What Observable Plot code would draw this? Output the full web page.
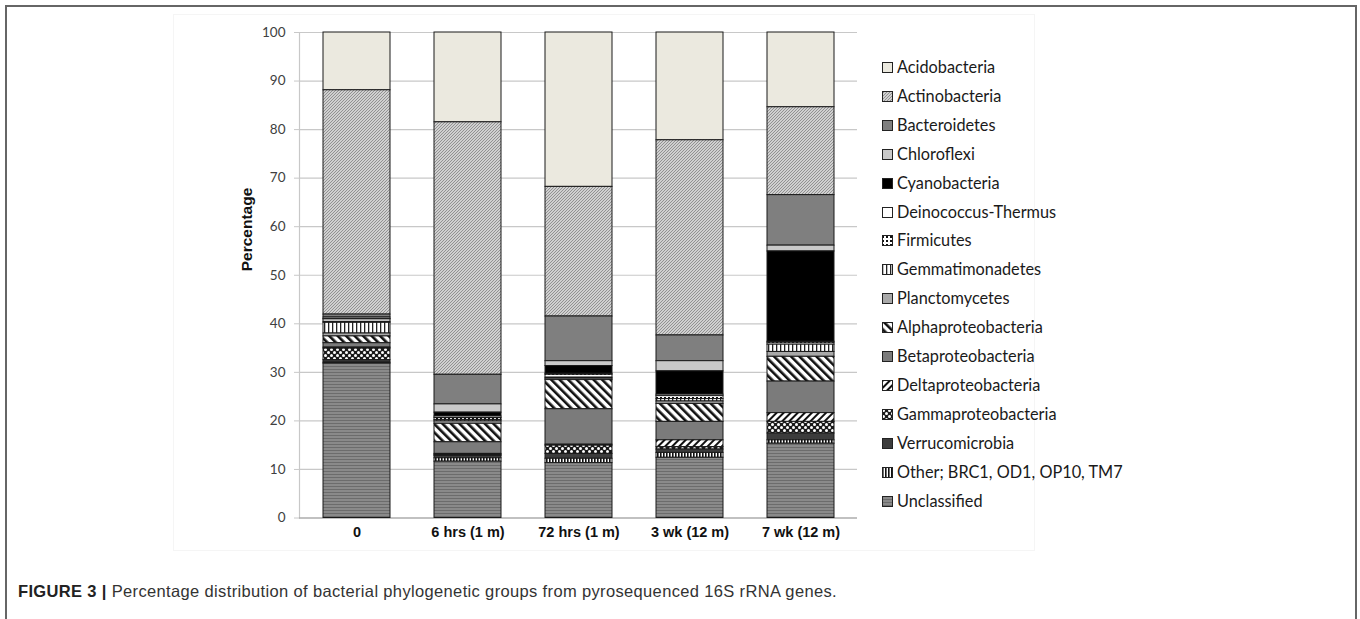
<!DOCTYPE html>
<html>
<head>
<meta charset="utf-8">
<script src="https://cdn.jsdelivr.net/npm/d3@7"></script>
<script src="https://cdn.jsdelivr.net/npm/@observablehq/plot@0.6"></script>
<style>
  html, body { margin: 0; padding: 0; background: #fff; }
  #root { position: relative; width: 1360px; height: 619px; overflow: hidden; background: #fff; }
  #frame { position: absolute; left: 5px; top: 5px; width: 1348px; height: 700px; border: 2px solid #666; border-bottom: none; }
  #area { position: absolute; left: 173px; top: 14px; width: 860px; height: 535px; border: 1px solid #f5f5f5; }
  #chart { position: absolute; left: 0; top: 0; }
  .leg { position: absolute; left: 882px; font-family: Lato, "Open Sans", sans-serif; font-size: 16.3px; color: #1a1a1a; white-space: nowrap; line-height: 1; }
  .leg svg { position: absolute; left: 0; top: 3px; }
  .leg span { position: absolute; left: 15px; top: 0; }
  #caption { position: absolute; left: 18px; top: 582px; font-family: "Liberation Sans", Arial, sans-serif; font-size: 16.5px; letter-spacing: 0.35px; color: #333; white-space: nowrap; }
  #caption b { color: #222; }
</style>
</head>
<body>
<svg width="0" height="0" style="position:absolute">
  <defs>
    <pattern id="p-acido" width="4" height="4" patternUnits="userSpaceOnUse"><rect width="4" height="4" fill="#ebe9df"/></pattern>
    <pattern id="p-actino" width="3" height="3" patternUnits="userSpaceOnUse"><rect width="3" height="3" fill="#d0d0d0"/><path d="M-1,1 L1,-1 M0,3 L3,0 M2,4 L4,2" stroke="#8a8a8a" stroke-width="0.9"/></pattern>
    <pattern id="p-bact" width="4" height="4" patternUnits="userSpaceOnUse"><rect width="4" height="4" fill="#7f7f7f"/></pattern>
    <pattern id="p-chloro" width="4" height="4" patternUnits="userSpaceOnUse"><rect width="4" height="4" fill="#c9c9c9"/></pattern>
    <pattern id="p-cyano" width="4" height="4" patternUnits="userSpaceOnUse"><rect width="4" height="4" fill="#000"/></pattern>
    <pattern id="p-deino" width="4" height="4" patternUnits="userSpaceOnUse"><rect width="4" height="4" fill="#fff"/></pattern>
    <pattern id="p-firm" width="4" height="4" patternUnits="userSpaceOnUse"><rect width="4" height="4" fill="#fff"/><rect x="0" y="1" width="2" height="2" fill="#111"/></pattern>
    <pattern id="p-gemma" width="4" height="4" patternUnits="userSpaceOnUse"><rect width="4" height="4" fill="#fff"/><rect x="0" y="0" width="1.3" height="4" fill="#222"/></pattern>
    <pattern id="p-plancto" width="4" height="4" patternUnits="userSpaceOnUse"><rect width="4" height="4" fill="#a9a9a9"/></pattern>
    <pattern id="p-alpha" width="6" height="6" patternUnits="userSpaceOnUse" patternTransform="rotate(-45)"><rect width="6" height="6" fill="#fff"/><rect x="0" y="0" width="2.6" height="6" fill="#111"/></pattern>
    <pattern id="p-beta" width="4" height="4" patternUnits="userSpaceOnUse"><rect width="4" height="4" fill="#7b7b7b"/></pattern>
    <pattern id="p-delta" width="5" height="5" patternUnits="userSpaceOnUse" patternTransform="rotate(45)"><rect width="5" height="5" fill="#fff"/><rect x="0" y="0" width="2" height="5" fill="#111"/></pattern>
    <pattern id="p-gamma" width="6" height="6" patternUnits="userSpaceOnUse"><rect width="6" height="6" fill="#1a1a1a"/><circle cx="1.5" cy="1.5" r="1.5" fill="#fff"/><circle cx="4.5" cy="4.5" r="1.5" fill="#fff"/></pattern>
    <pattern id="p-verru" width="4" height="4" patternUnits="userSpaceOnUse"><rect width="4" height="4" fill="#3c3c3c"/></pattern>
    <pattern id="p-other" width="3" height="3" patternUnits="userSpaceOnUse"><rect width="3" height="3" fill="#fff"/><rect x="0" y="0" width="1.6" height="3" fill="#111"/></pattern>
    <pattern id="p-uncl" width="4" height="3" patternUnits="userSpaceOnUse"><rect width="4" height="3" fill="#8a8a8a"/><rect x="0" y="0" width="4" height="1" fill="#6c6c6c"/></pattern>
  </defs>
</svg>
<div id="root">
  <div id="frame"></div>
  <div id="area"></div>
  <div id="chart"></div>
  <div id="legend"></div>
  <div id="caption"><b>FIGURE 3 |</b> Percentage distribution of bacterial phylogenetic groups from pyrosequenced 16S rRNA genes.</div>
</div>
<script>
// Sample (x-axis) labels
const samples = ["0", "6 hrs (1 m)", "72 hrs (1 m)", "3 wk (12 m)", "7 wk (12 m)"];

// Groups in legend order (top of stack first)
const groups = [
  "Acidobacteria", "Actinobacteria", "Bacteroidetes", "Chloroflexi", "Cyanobacteria",
  "Deinococcus-Thermus", "Firmicutes", "Gemmatimonadetes", "Planctomycetes",
  "Alphaproteobacteria", "Betaproteobacteria", "Deltaproteobacteria", "Gammaproteobacteria",
  "Verrucomicrobia", "Other; BRC1, OD1, OP10, TM7", "Unclassified"
];
const patternIds = [
  "p-acido", "p-actino", "p-bact", "p-chloro", "p-cyano", "p-deino", "p-firm", "p-gemma",
  "p-plancto", "p-alpha", "p-beta", "p-delta", "p-gamma", "p-verru", "p-other", "p-uncl"
];

// Percentages per sample, in legend order
const sample0   = [11.9, 46.2, 0.6, 0.3, 0.1, 0.5, 0.2, 2.2, 0.6, 1.4, 0.9, 0.2, 2.4, 0.5, 0.2, 31.8];
const sample6h  = [18.5, 52.0, 6.1, 1.7, 0.8, 0.3, 0.4, 0.3, 0.5, 3.8, 2.4, 0.2, 0.2, 0.5, 0.7, 11.6];
const sample72h = [31.8, 26.7, 9.2, 1.0, 1.6, 0.2, 0.6, 0.2, 0.3, 6.0, 7.3, 0.2, 1.7, 1.0, 0.9, 11.3];
const sample3w  = [22.2, 40.2, 5.3, 2.1, 4.8, 0.3, 0.6, 0.5, 0.5, 3.7, 3.8, 1.4, 0.5, 0.7, 1.0, 12.4];
const sample7w  = [15.4, 18.1, 10.4, 1.2, 18.6, 0.2, 0.4, 1.5, 1.0, 5.1, 6.5, 1.8, 2.4, 1.4, 0.7, 15.3];

const yTicks = [0, 10, 20, 30, 40, 50, 60, 70, 80, 90, 100];

const seriesBySample = [sample0, sample6h, sample72h, sample3w, sample7w];
const rows = [];
samples.forEach((s, i) => {
  groups.forEach((g, j) => rows.push({sample: s, group: g, value: seriesBySample[i][j]}));
});

const gridColor = "#c8c8c8";

const chart = Plot.plot({
  width: 880,
  height: 550,
  marginLeft: 299,
  marginRight: 23,
  marginTop: 32,
  marginBottom: 32.5,
  style: {fontFamily: "Lato, 'Open Sans', sans-serif", background: "transparent", overflow: "visible"},
  x: {domain: samples, paddingInner: 0.4, paddingOuter: 0.2, label: null},
  y: {domain: [0, 100], label: null},
  color: {type: "ordinal", domain: groups, range: patternIds.map(id => `url(#${id})`)},
  marks: [
    Plot.gridY(yTicks, {stroke: gridColor, strokeOpacity: 1, strokeWidth: 1.2}),
    Plot.axisY(yTicks, {tickSize: 5, tickPadding: 9, stroke: gridColor, fill: "#404040", fontSize: 13.5, label: null}),
    Plot.frame({anchor: "left", stroke: gridColor, strokeWidth: 1.2}),
    Plot.ruleY([0], {stroke: "#a0a0a0", strokeWidth: 1.2}),
    Plot.barY(rows, {
      x: "sample", y: "value", fill: "group",
      order: groups.slice().reverse(),
      stroke: "#1a1a1a", strokeWidth: 1
    }),
    Plot.axisX({tickSize: 0, tickPadding: 9, fontSize: 14.5, fontWeight: "bold", fill: "#111", label: null,
      fontFamily: "'Liberation Sans', Arial, sans-serif"}),
    Plot.text(["Percentage"], {frameAnchor: "left", rotate: -90, dx: -52, dy: -4, fontWeight: "bold",
      fontSize: 15.5, fill: "#111", fontFamily: "'Liberation Sans', Arial, sans-serif"})
  ]
});
document.getElementById("chart").appendChild(chart);

// Legend
const legend = document.getElementById("legend");
groups.forEach((g, i) => {
  const div = document.createElement("div");
  div.className = "leg";
  div.style.top = (59 + i * 28.9) + "px";
  div.innerHTML = `<svg width="11" height="11"><rect x="0.5" y="0.5" width="10" height="10" fill="url(#${patternIds[i]})" stroke="#222" stroke-width="1"/></svg><span>${g}</span>`;
  legend.appendChild(div);
});
</script>
</body>
</html>
